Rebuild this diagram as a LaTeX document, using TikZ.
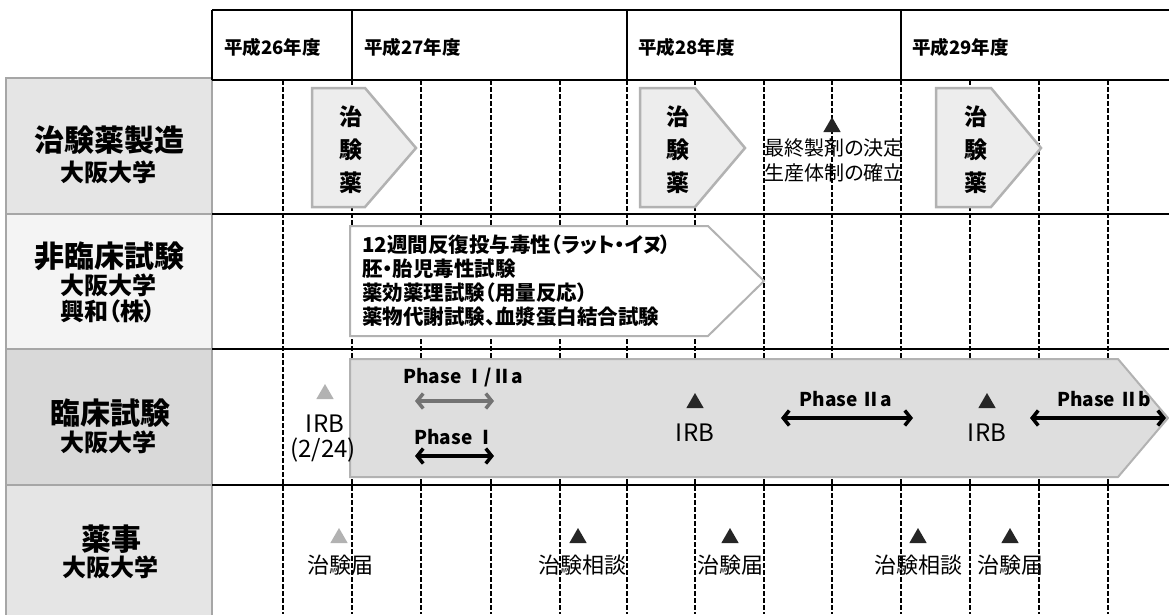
\documentclass[tikz,border=0pt]{standalone}
\usepackage{fontspec}
\setmainfont{Noto Sans CJK JP}[RawFeature=+palt]
\usetikzlibrary{arrows.meta,shapes.geometric}
\tikzset{
  vline/.style={line width=1.3pt, dash pattern=on 5pt off 2pt},
  hline/.style={line width=1.8pt},
  labbox/.style={draw=gray!70, line width=1.5pt},
  pentA/.style={draw=gray!60, line width=2.5pt, fill=gray!14},
  pentB/.style={draw=gray!60, line width=2pt, fill=white},
  pentC/.style={draw=gray!60, line width=2pt, fill=gray!26},
  tri/.style={regular polygon, regular polygon sides=3, fill=black!85, inner sep=0pt, minimum size=20pt},
  trig/.style={tri, fill=gray!60},
  dbl/.style={line width=3.5pt, {Straight Barb[length=6pt,width=15pt]}-{Straight Barb[length=6pt,width=15pt]}},
  dblg/.style={dbl, draw=black!55},
  hdr/.style={anchor=west, inner sep=0pt, font=\fontsize{18.5}{18.5}\selectfont\bfseries},
  big/.style={inner sep=0pt, font=\fontsize{30}{30}\selectfont\bfseries},
  sub/.style={inner sep=0pt, font=\fontsize{24}{24}\selectfont\bfseries},
  ph/.style={inner sep=0pt, font=\fontsize{19}{19}\selectfont\bfseries},
  irb/.style={inner sep=0pt, font=\fontsize{24}{24}\selectfont},
  ev/.style={inner sep=0pt, font=\fontsize{22}{22}\selectfont},
}
\begin{document}
\begin{tikzpicture}[x=1pt,y=-1pt]
\useasboundingbox (0,0) rectangle (1169,614);
% label boxes
\path[labbox, fill=gray!20] (6,78) rectangle (212,214);
\path[labbox, fill=gray!9] (6,214) rectangle (212,349);
\path[labbox, fill=gray!30] (6,349) rectangle (212,485);
\path[labbox, fill=gray!20] (6,485) rectangle (212,616);
% dashed grid
\foreach \x in {283,352,421,491,560,627,695,764,832,901,970,1039,1108}
  \draw[vline] (\x,80) -- (\x,614);
% header
\draw[hline] (212,10) -- (1169,10);
\draw[hline] (212,80) -- (1169,80);
\foreach \x in {212,352,627,901}
  \draw[hline] (\x,10) -- (\x,80);
\draw[hline] (212,214) -- (1169,214);
\draw[hline] (212,349) -- (1169,349);
\draw[hline] (212,485) -- (1169,485);
\node[hdr] (y26) at (224,47) {平成26年度};
\node[hdr] (y27) at (364,47) {平成27年度};
\node[hdr] (y28) at (638,47) {平成28年度};
\node[hdr] (y29) at (912,47) {平成29年度};
% row labels
\node[big] (l1) at (109,140) {治験薬製造};
\node[sub] (l1s) at (108,172) {大阪大学};
\node[big] (l2) at (109,256) {非臨床試験};
\node[sub] (l2s) at (108,285) {大阪大学};
\node[sub] (l2t) at (108,311) {興和（株）};
\node[big] (l3) at (110,413) {臨床試験};
\node[sub] (l3s) at (108,442) {大阪大学};
\node[big] (l4) at (111,539) {薬事};
\node[sub] (l4s) at (110,567) {大阪大学};
% row 1
\draw[pentA] (312,88) -- (365,88) -- (416,148) -- (365,207) -- (312,207) -- cycle;
\draw[pentA] (640,88) -- (695,88) -- (745,148) -- (695,207) -- (640,207) -- cycle;
\draw[pentA] (936,88) -- (991,88) -- (1041,148) -- (991,207) -- (936,207) -- cycle;
\node[align=center, inner sep=0pt, font=\fontsize{23}{33}\selectfont\bfseries] (d1) at (351,150) {治\\験\\薬};
\node[align=center, inner sep=0pt, font=\fontsize{23}{33}\selectfont\bfseries] (d2) at (678,150) {治\\験\\薬};
\node[align=center, inner sep=0pt, font=\fontsize{23}{33}\selectfont\bfseries] (d3) at (976,150) {治\\験\\薬};
\node[tri] (t1) at (832,127) {};
\node[align=center, inner sep=0pt, font=\fontsize{20}{25}\selectfont] (fin) at (834,160) {最終製剤の決定\\生産体制の確立};
% row 2
\draw[pentB] (350,226) -- (708,226) -- (764,281) -- (708,336) -- (350,336) -- cycle;
\node[anchor=west, align=left, inner sep=0pt, font=\fontsize{20.5}{24}\selectfont\bfseries] (nc) at (362,281)
  {12週間反復投与毒性（ラット・イヌ）\\胚・胎児毒性試験\\薬効薬理試験（用量反応）\\薬物代謝試験、血漿蛋白結合試験};
% row 3
\draw[pentC] (350,359) -- (1118,359) -- (1168,418) -- (1118,477) -- (350,477) -- cycle;
\node[trig] (t2) at (325,394) {};
\node[irb] (irb0) at (325,424) {IRB};
\node[irb] (irbd) at (323,450) {(2/24)};
\node[ph] (p12) at (463,378) {Phase Ⅰ/Ⅱa};
\coordinate (a1s) at (415,401); \coordinate (a1e) at (494,401);
\draw[dblg] (a1s) -- (a1e);
\node[ph] (p1) at (455,437) {Phase Ⅰ};
\coordinate (a2s) at (415,456); \coordinate (a2e) at (494,456);
\draw[dbl] (a2s) -- (a2e);
\node[tri] (t3) at (695,403) {};
\node[irb] (irb1) at (695,433) {IRB};
\node[ph] (p2a) at (846,399) {Phase Ⅱa};
\coordinate (a3s) at (781,418); \coordinate (a3e) at (913,418);
\draw[dbl] (a3s) -- (a3e);
\node[tri] (t4) at (987,403) {};
\node[irb] (irb2) at (987,433) {IRB};
\node[ph] (p2b) at (1104,399) {Phase Ⅱb};
\coordinate (a4s) at (1030,418); \coordinate (a4e) at (1166,418);
\draw[dbl] (a4s) -- (a4e);
% row 4
\node[trig] (t5) at (339,538) {};
\node[ev] (e1) at (340,565) {治験届};
\node[tri] (t6) at (578,538) {};
\node[ev] (e2) at (582,565) {治験相談};
\node[tri] (t7) at (730,538) {};
\node[ev] (e3) at (730,565) {治験届};
\node[tri] (t8) at (918,538) {};
\node[ev] (e4) at (918,565) {治験相談};
\node[tri] (t9) at (1010,538) {};
\node[ev] (e5) at (1010,565) {治験届};
\end{tikzpicture}
\end{document}
